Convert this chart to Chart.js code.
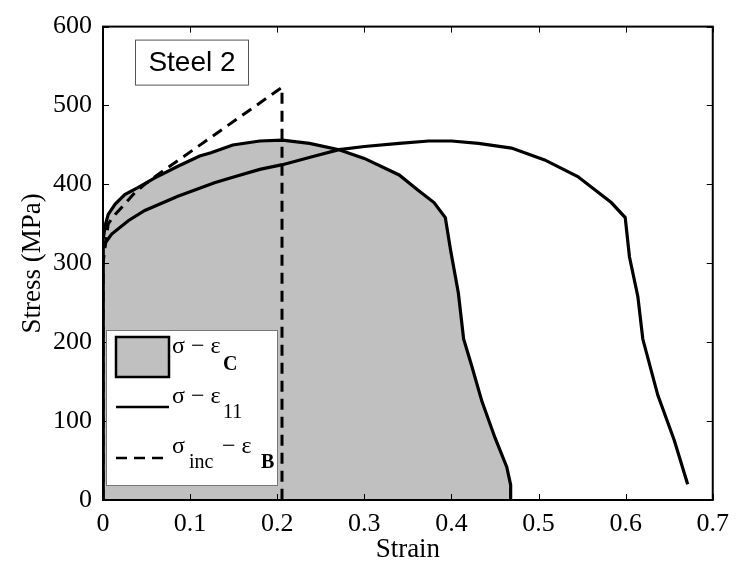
<!DOCTYPE html>
<html>
<head>
<meta charset="utf-8">
<script src="https://cdn.jsdelivr.net/npm/chart.js@4/dist/chart.umd.min.js"></script>
<style>
  body { margin: 0; background: #fff; }
  canvas { display: block; }
</style>
</head>
<body>
<canvas id="myChart" width="738" height="567"></canvas>
<script>
// 数据
var strainC = [0, 0, 0.003, 0.006, 0.014, 0.025, 0.040, 0.059, 0.086, 0.111, 0.124, 0.149, 0.18, 0.206, 0.237, 0.271, 0.30, 0.34, 0.3625, 0.38, 0.393, 0.399, 0.408, 0.414, 0.423, 0.435, 0.450, 0.4635, 0.468, 0.468];
var stressC = [0, 330, 350, 362, 375, 387, 396, 408, 423, 436, 440, 450, 455, 456, 452, 444, 433, 412, 392, 377, 358, 317, 262, 204, 171, 125, 79, 42, 19, 0];

var strain11 = [0, 0, 0.01, 0.029, 0.048, 0.086, 0.128, 0.149, 0.18, 0.206, 0.24, 0.271, 0.30, 0.34, 0.374, 0.40, 0.431, 0.469, 0.507, 0.545, 0.5835, 0.5995, 0.6044, 0.614, 0.6197, 0.6369, 0.656, 0.6712];
var stress11 = [0, 322, 337, 354, 367, 385, 402, 409, 419, 425, 435, 444, 448, 452, 455, 455, 452, 446, 431, 410, 377, 358, 308, 258, 204, 133, 75, 20];

var strainB = [0, 0, 0.006, 0.014, 0.025, 0.037, 0.048, 0.06, 0.2055, 0.2055];
var stressB = [0, 300, 350, 362, 375, 390, 400, 410, 523, 0];

var xTicks = [0, 0.1, 0.2, 0.3, 0.4, 0.5, 0.6, 0.7];
var yTicks = [0, 100, 200, 300, 400, 500, 600];

function pts(xs, ys) {
    return xs.map(function(x, i) { return {x: x, y: ys[i]}; });
}

var serif = '"Liberation Serif", "Times New Roman", serif';

// 边框、内刻度、图例
var framePlugin = {
    id: 'frame',
    afterDatasetsDraw: function(chart) {
        var ctx = chart.ctx, a = chart.chartArea;
        var sx = chart.scales.x, sy = chart.scales.y;
        ctx.save();
        ctx.strokeStyle = '#000';
        ctx.lineWidth = 1;
        ctx.beginPath();
        xTicks.forEach(function(v) {
            var px = Math.round(sx.getPixelForValue(v)) + 0.5;
            ctx.moveTo(px, a.bottom); ctx.lineTo(px, a.bottom - 6);
            ctx.moveTo(px, a.top); ctx.lineTo(px, a.top + 6);
        });
        yTicks.forEach(function(v) {
            var py = Math.round(sy.getPixelForValue(v)) + 0.5;
            ctx.moveTo(a.left, py); ctx.lineTo(a.left + 6, py);
            ctx.moveTo(a.right, py); ctx.lineTo(a.right - 6, py);
        });
        ctx.stroke();
        ctx.lineWidth = 2;
        ctx.strokeRect(a.left, a.top, a.right - a.left, a.bottom - a.top);

        // legend box (lower left)
        var lx = a.left + 3, ly = a.bottom - 170, lw = 171, lh = 155;
        ctx.fillStyle = '#fff';
        ctx.fillRect(lx, ly, lw, lh);
        ctx.strokeStyle = '#777';
        ctx.lineWidth = 1;
        ctx.strokeRect(lx + 0.5, ly + 0.5, lw, lh);

        // sample 1: filled patch
        ctx.fillStyle = '#c0c0c0';
        ctx.fillRect(lx + 10, ly + 7, 53, 40);
        ctx.strokeStyle = '#000';
        ctx.lineWidth = 2.5;
        ctx.strokeRect(lx + 10, ly + 7, 53, 40);
        // sample 2: solid
        ctx.beginPath();
        ctx.moveTo(lx + 10, ly + 77); ctx.lineTo(lx + 63, ly + 77);
        ctx.stroke();
        // sample 3: dashed
        ctx.setLineDash([11, 7]);
        ctx.beginPath();
        ctx.moveTo(lx + 10, ly + 128); ctx.lineTo(lx + 63, ly + 128);
        ctx.stroke();
        ctx.setLineDash([]);

        ctx.fillStyle = '#000';
        ctx.textBaseline = 'alphabetic';
        ctx.textAlign = 'left';
        var tx = lx + 66;
        ctx.font = '24px ' + serif;
        ctx.fillText('\u03c3 \u2212 \u03b5', tx, ly + 23);
        ctx.font = 'bold 20px ' + serif;
        ctx.fillText('C', tx + 51, ly + 40);

        ctx.font = '24px ' + serif;
        ctx.fillText('\u03c3 \u2212 \u03b5', tx, ly + 73);
        ctx.font = '20px ' + serif;
        ctx.fillText('11', tx + 51, ly + 88);

        ctx.font = '24px ' + serif;
        ctx.fillText('\u03c3', tx, ly + 123);
        ctx.font = '20px ' + serif;
        ctx.fillText('inc', tx + 17, ly + 138);
        ctx.font = '24px ' + serif;
        ctx.fillText('\u2212 \u03b5', tx + 50, ly + 123);
        ctx.font = 'bold 20px ' + serif;
        ctx.fillText('B', tx + 89, ly + 138);

        // "Steel 2" label
        var bx = a.left + 32, by = a.top + 13;
        ctx.fillStyle = '#fff';
        ctx.fillRect(bx, by, 113, 45);
        ctx.strokeStyle = '#555';
        ctx.lineWidth = 1;
        ctx.strokeRect(bx + 0.5, by + 0.5, 113, 45);
        ctx.fillStyle = '#000';
        ctx.font = '28px "Liberation Sans", Arial, sans-serif';
        ctx.textAlign = 'center';
        ctx.textBaseline = 'middle';
        ctx.fillText('Steel 2', bx + 57, by + 24);
        ctx.restore();
    }
};

var ctx = document.getElementById('myChart').getContext('2d');
var myChart = new Chart(ctx, {
    type: 'line',
    data: {
        datasets: [{
            label: '\u03c3inc \u2212 \u03b5B',
            data: pts(strainB, stressB),
            borderColor: '#000',
            borderWidth: 3,
            borderDash: [11, 7],
            fill: false,
            order: 0
        }, {
            label: '\u03c3 \u2212 \u03b511',
            data: pts(strain11, stress11),
            borderColor: '#000',
            borderWidth: 3.2,
            fill: false,
            order: 1
        }, {
            label: '\u03c3 \u2212 \u03b5C',
            data: pts(strainC, stressC),
            borderColor: '#000',
            borderWidth: 3.2,
            backgroundColor: '#c0c0c0',
            fill: 'origin',
            order: 2
        }]
    },
    options: {
        responsive: false,
        animation: false,
        layout: { padding: { top: 20, right: 23, left: 0, bottom: 0 } },
        elements: { point: { radius: 0 }, line: { tension: 0 } },
        plugins: { legend: { display: false }, tooltip: { enabled: false } },
        scales: {
            x: {
                type: 'linear', min: 0, max: 0.7,
                afterFit: function(s) { s.height = 67; },
                afterBuildTicks: function(s) { s.ticks = xTicks.map(function(v) { return {value: v}; }); },
                grid: { display: false, drawTicks: false },
                border: { display: false },
                ticks: { color: '#000', padding: 9, maxRotation: 0, font: { family: serif, size: 26 } },
                title: { display: true, text: 'Strain', color: '#000', padding: { top: 0, bottom: 1 }, font: { family: serif, size: 27 } }
            },
            y: {
                type: 'linear', min: 0, max: 600,
                afterFit: function(s) { s.width = 103; },
                afterBuildTicks: function(s) { s.ticks = yTicks.map(function(v) { return {value: v}; }); },
                grid: { display: false, drawTicks: false },
                border: { display: false },
                ticks: { color: '#000', padding: 11, font: { family: serif, size: 26 } },
                title: { display: true, text: 'Stress (MPa)', color: '#000', padding: { top: 17, bottom: 0 }, font: { family: serif, size: 27 } }
            }
        }
    },
    plugins: [framePlugin]
});
</script>
</body>
</html>
